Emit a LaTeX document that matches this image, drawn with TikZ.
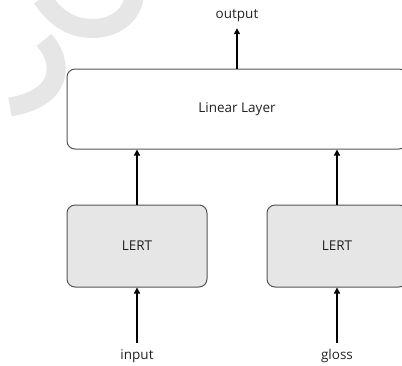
\documentclass[tikz,border=0pt]{standalone}
\usepackage{fontspec}
\setmainfont{Open Sans}
\usetikzlibrary{arrows.meta}
\definecolor{wm}{HTML}{E6E6E6}
\definecolor{boxline}{HTML}{555555}
\definecolor{lertfill}{HTML}{E6E6E6}
\definecolor{txt}{HTML}{222222}
\tikzset{
  base/.style={font=\fontsize{13.5}{16}\selectfont, text=txt},
  layerbox/.style={base, draw=boxline, line width=1pt, rounded corners=8pt, fill=white},
  lertbox/.style={layerbox, fill=lertfill, minimum width=140pt, minimum height=82pt},
  label/.style={base, inner xsep=0pt, inner ysep=7pt, text height=9pt, text depth=3pt},
  arr/.style={line width=1.5pt, -{Triangle[length=6pt,width=6pt]}},
  watermark/.style={draw=wm, line width=19pt}
}
\begin{document}
\begin{tikzpicture}[x=1pt,y=-1pt]
\useasboundingbox (0,0) rectangle (402,365);
\clip (0,0) rectangle (402,365);
% watermark strokes
\draw[watermark] (42,-2) .. controls (60,26) and (82,30) .. (100,28) .. controls (120,25) and (132,12) .. (134,-2);
\draw[watermark] (44,40) .. controls (64,62) and (64,98) .. (10,107);
% nodes
\node[layerbox, minimum width=340pt, minimum height=80pt] (linear) at (237,109) {Linear Layer};
\node[lertbox] (lert1) at (137,246) {LERT};
\node[lertbox] (lert2) at (337,246) {LERT};
\node[label] (input) at (137,356) {input};
\node[label] (gloss) at (337,356) {gloss};
\node[label] (output) at (237,15) {output};
% connectors
\draw[arr] (input.north) -- (lert1.south);
\draw[arr] (gloss.north) -- (lert2.south);
\draw[arr] (lert1.north) -- (lert1.north |- linear.south);
\draw[arr] (lert2.north) -- (lert2.north |- linear.south);
\draw[arr] (linear.north) -- (output.south);
\end{tikzpicture}
\end{document}
